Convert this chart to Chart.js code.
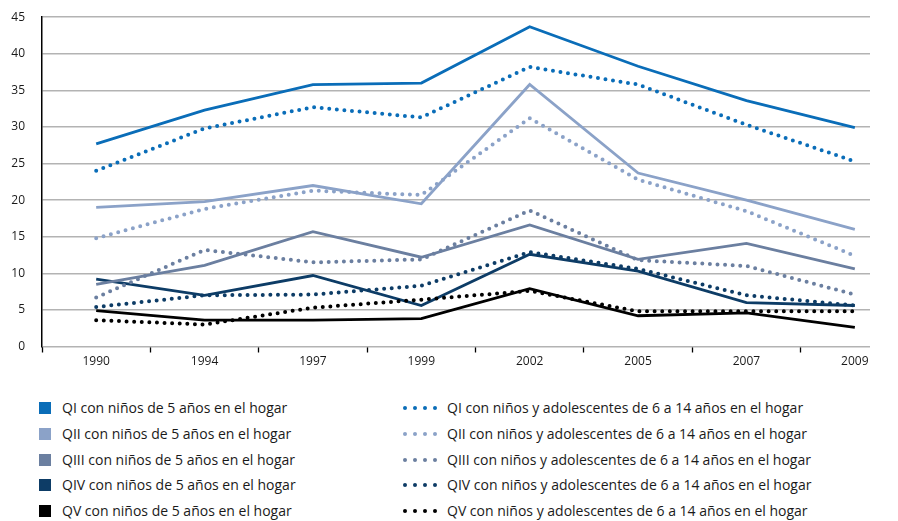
<!DOCTYPE html>
<html>
<head>
<meta charset="utf-8">
<script src="https://cdn.jsdelivr.net/npm/chart.js@4"></script>
<style>
  body { margin: 0; background: #fff; font-family: "Open Sans", sans-serif; }
  #wrap { position: relative; width: 898px; height: 521px; overflow: hidden; }
  #box { position: absolute; left: 0; top: -7px; width: 898px; height: 380px; }
  .leg { position: absolute; font-size: 14px; color: #1a1a1a; white-space: nowrap; line-height: 16px; }
  .sq { position: absolute; width: 12px; height: 12px; left: -23px; top: 2px; }
  .dots { position: absolute; left: -44px; top: 6px; height: 4px; width: 36px; }
  .dots span { position: absolute; top: 0; width: 4px; height: 4px; border-radius: 50%; }
</style>
</head>
<body>
<div id="wrap">
  <div id="box"><canvas id="myChart"></canvas></div>
  <div id="legend"></div>
</div>
<script>
const years = ['1990', '1994', '1997', '1999', '2002', '2005', '2007', '2009'];

const qi5 = [27.7, 32.3, 35.8, 36.0, 43.7, 38.3, 33.6, 29.9];
const qii5 = [19.0, 19.8, 22.0, 19.5, 35.8, 23.7, 20.0, 16.0];
const qiii5 = [8.5, 11.1, 15.7, 12.2, 16.6, 11.9, 14.1, 10.6];
const qiv5 = [9.2, 7.0, 9.7, 5.6, 12.6, 10.3, 6.0, 5.6];
const qv5 = [4.9, 3.6, 3.6, 3.8, 7.9, 4.2, 4.6, 2.6];

const qi614 = [24.0, 29.8, 32.7, 31.3, 38.2, 35.8, 30.3, 25.3];
const qii614 = [14.8, 18.8, 21.3, 20.7, 31.2, 22.8, 18.5, 12.4];
const qiii614 = [6.7, 13.2, 11.5, 11.9, 18.6, 11.8, 11.0, 7.1];
const qiv614 = [5.4, 7.0, 7.1, 8.3, 12.9, 10.6, 7.0, 5.6];
const qv614 = [3.6, 3.0, 5.3, 6.4, 7.6, 4.8, 4.8, 4.8];

const labels5 = [
  'QI con niños de 5 años en el hogar',
  'QII con niños de 5 años en el hogar',
  'QIII con niños de 5 años en el hogar',
  'QIV con niños de 5 años en el hogar',
  'QV con niños de 5 años en el hogar'
];
const labels614 = [
  'QI con niños y adolescentes de 6 a 14 años en el hogar',
  'QII con niños y adolescentes de 6 a 14 años en el hogar',
  'QIII con niños y adolescentes de 6 a 14 años en el hogar',
  'QIV con niños y adolescentes de 6 a 14 años en el hogar',
  'QV con niños y adolescentes de 6 a 14 años en el hogar'
];
const colors = ['#0a6db8', '#8ba2c8', '#6b7fa0', '#0d3c66', '#000000'];

const series5 = [qi5, qii5, qiii5, qiv5, qv5];
const series614 = [qi614, qii614, qiii614, qiv614, qv614];

const toPoints = arr => arr.map((v, i) => ({ x: i, y: v }));

const datasets = [];
series614.forEach((s, i) => {
  datasets.push({
    label: labels614[i],
    data: toPoints(s),
    borderColor: colors[i],
    borderWidth: 4,
    borderDash: [0, 7.6],
    borderCapStyle: 'round',
    pointRadius: 0,
    tension: 0
  });
});
series5.forEach((s, i) => {
  datasets.push({
    label: labels5[i],
    data: toPoints(s),
    borderColor: colors[i],
    borderWidth: 2.8,
    pointRadius: 0,
    tension: 0
  });
});

const ctx = document.getElementById('myChart');

new Chart(ctx, {
  type: 'line',
  data: { datasets: datasets },
  options: {
    responsive: true,
    maintainAspectRatio: false,
    animation: false,
    layout: { padding: { top: 17, right: 28, left: 0, bottom: 0 } },
    plugins: { legend: { display: false }, tooltip: { enabled: false } },
    scales: {
      x: {
        type: 'linear',
        min: -0.5,
        max: 7.14,
        afterBuildTicks: scale => {
          const t = [];
          for (let v = -0.5; v <= 7; v += 0.5) t.push({ value: v });
          scale.ticks = t;
        },
        afterFit: scale => { scale.height = 26.5; },
        border: { display: false },
        grid: {
          drawOnChartArea: false,
          tickLength: 6,
          tickWidth: 1.3,
          tickColor: c => Number.isInteger(c.tick.value) ? 'rgba(0,0,0,0)' : '#000'
        },
        ticks: {
          autoSkip: false,
          maxRotation: 0,
          padding: 2,
          color: '#1a1a1a',
          font: { family: 'Open Sans', size: 12 },
          callback: v => Number.isInteger(v) ? years[v] : ''
        }
      },
      y: {
        min: 0,
        max: 45,
        afterFit: scale => { scale.width = 42; },
        border: { display: true, color: '#000', width: 1.5 },
        grid: { color: '#b3b3b3', lineWidth: 1.5, drawTicks: false },
        ticks: {
          stepSize: 5,
          padding: 17,
          color: '#1a1a1a',
          font: { family: 'Open Sans', size: 12 }
        }
      }
    }
  }
});

// legend in two columns
const legend = document.getElementById('legend');
const rowTops = [400, 425.5, 451.5, 477, 502.5];
labels5.forEach((txt, i) => {
  const d = document.createElement('div');
  d.className = 'leg';
  d.style.left = '62px';
  d.style.top = rowTops[i] + 'px';
  d.innerHTML = '<span class="sq" style="background:' + colors[i] + '"></span>' + txt;
  legend.appendChild(d);
});
labels614.forEach((txt, i) => {
  const d = document.createElement('div');
  d.className = 'leg';
  d.style.left = '447px';
  d.style.top = rowTops[i] + 'px';
  let dots = '';
  for (let k = 0; k < 4; k++) {
    dots += '<span style="left:' + (k * 10) + 'px;background:' + colors[i] + '"></span>';
  }
  d.innerHTML = '<span class="dots">' + dots + '</span>' + txt;
  legend.appendChild(d);
});
</script>
</body>
</html>
